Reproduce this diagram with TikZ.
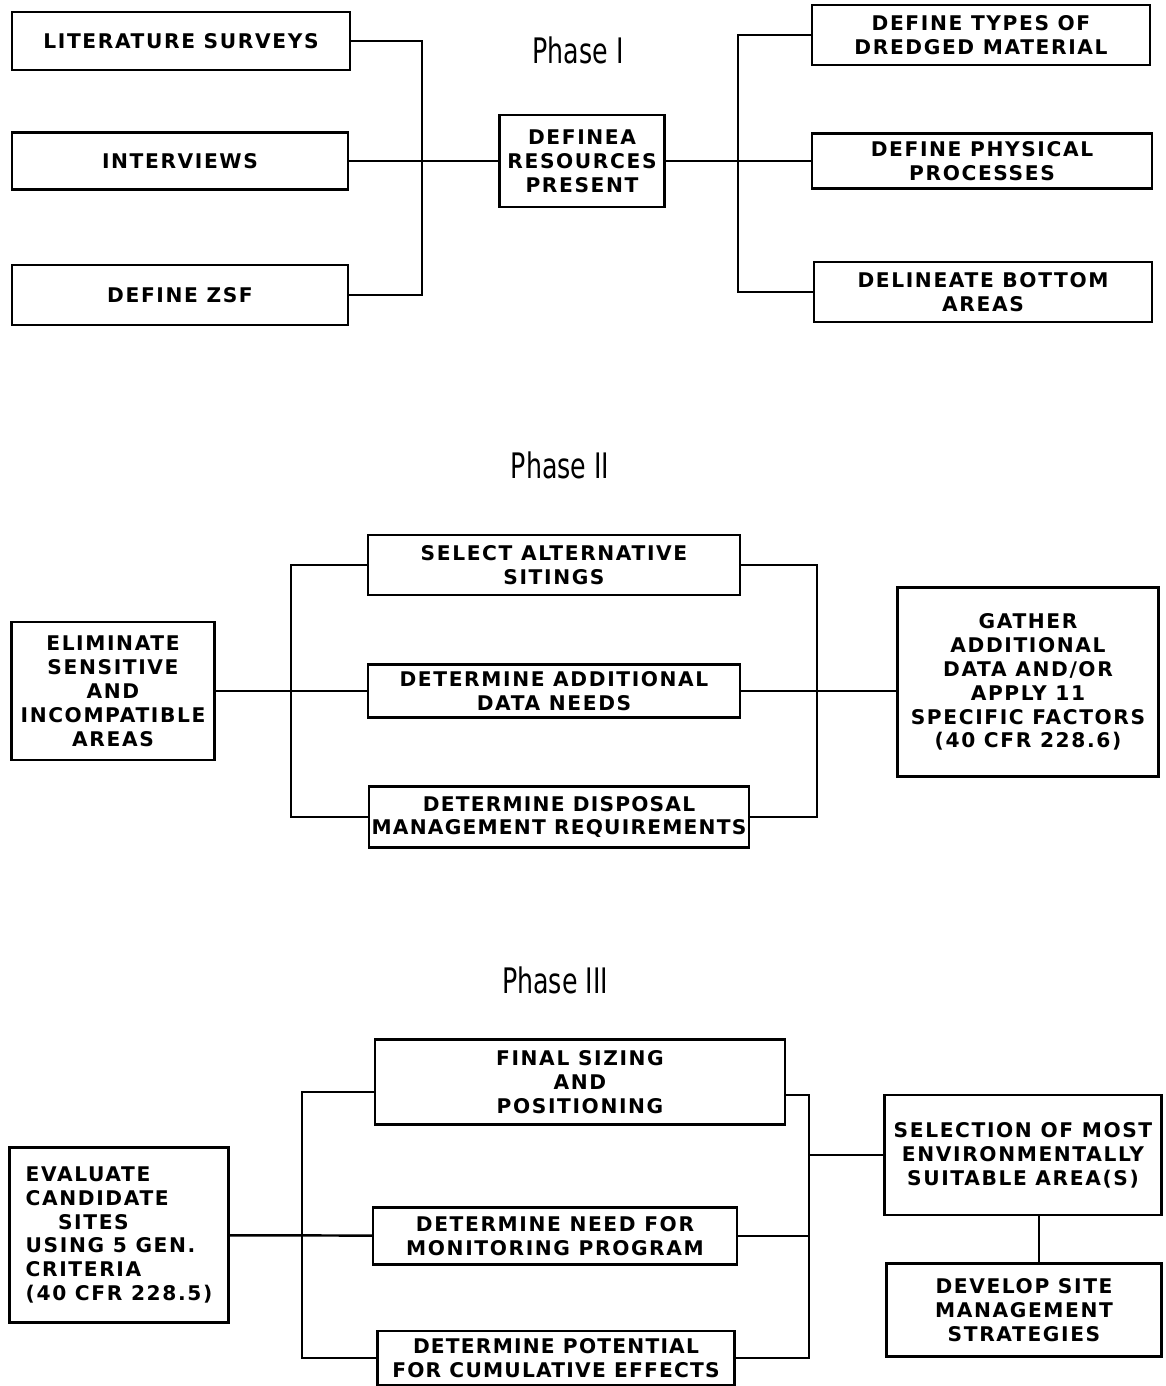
\documentclass[tikz,border=0pt]{standalone}
\usepackage{fontspec}
\setmainfont{DejaVu Sans}[LetterSpace=8]
\newfontfamily\phasefont[FakeStretch=0.72]{DejaVu Sans}
\usetikzlibrary{calc}
\tikzset{
	every node/.style = { align = center },
	box/.style = { draw, line width=1.4pt, inner sep=1mm, font=\bfseries\fontsize{11.5}{13.6}\selectfont },
	head/.style = { font=\phasefont\fontsize{20}{22}\selectfont },
	link/.style = { line width=1.4pt },
	tight/.style = { inner xsep=0.5mm, font=\bfseries\fontsize{11.5}{13.6}\selectfont\addfontfeature{LetterSpace=6} },
}

\begin{document}
\begin{tikzpicture}[x=0.02cm,y=-0.02cm]
\useasboundingbox (0,0) rectangle (1166,1386);

\node (ph1) [head] at (578,50)  {Phase I};
\node (lit) [box,minimum width=6.76cm,minimum height=1.16cm] at (181,41)  {LITERATURE SURVEYS};
\node (int) [box,minimum width=6.72cm,minimum height=1.14cm] at (180,161) {INTERVIEWS};
\node (zsf) [box,minimum width=6.72cm,minimum height=1.2cm]  at (180,295) {DEFINE ZSF};
\node (res) [box,minimum width=3.3cm,minimum height=1.84cm]  at (582,161) {DEFINEA\\RESOURCES\\PRESENT};
\node (typ) [box,minimum width=6.76cm,minimum height=1.2cm]  at (981,35)  {DEFINE TYPES OF\\DREDGED MATERIAL};
\node (phy) [box,minimum width=6.8cm,minimum height=1.1cm]   at (982,161) {DEFINE PHYSICAL\\PROCESSES};
\node (del) [box,minimum width=6.76cm,minimum height=1.2cm]  at (983,292) {DELINEATE BOTTOM\\AREAS};

\coordinate (b1) at (422,0);
\coordinate (b2) at (738,0);
\draw[link] (lit) -- (lit-|b1) -- (zsf-|b1) -- (zsf);
\draw[link] (int) -- (res);
\draw[link] (typ) -- (typ-|b2) -- (del-|b2) -- (del);
\draw[link] (res) -- (phy);

\node (ph2)  [head] at (560,465) {Phase II};
\node (elim) [box,minimum width=4.06cm,minimum height=2.76cm] at (113,691) {ELIMINATE\\SENSITIVE\\AND\\INCOMPATIBLE\\AREAS};
\node (sel)  [box,minimum width=7.44cm,minimum height=1.2cm]  at (554,565) {SELECT ALTERNATIVE\\SITINGS};
\node (add)  [box,minimum width=7.44cm,minimum height=1.06cm] at (554,691) {DETERMINE ADDITIONAL\\DATA NEEDS};
\node (dis)  [box,tight,minimum width=7.56cm,minimum height=1.22cm] at (559,817) {DETERMINE DISPOSAL\\MANAGEMENT REQUIREMENTS};
\node (gat)  [box,minimum width=5.22cm,minimum height=3.78cm] at (1028,682) {GATHER\\ADDITIONAL\\DATA AND/OR\\APPLY 11\\SPECIFIC FACTORS\\(40 CFR 228.6)};

\coordinate (b3) at (291,0);
\coordinate (b4) at (817,0);
\draw[link] (sel) -- (sel-|b3) -- (dis-|b3) -- (dis);
\draw[link] (elim) -- (add);
\draw[link] (sel) -- (sel-|b4) -- (dis-|b4) -- (dis);
\draw[link] (add) -- (add-|gat.west);

\node (ph3) [head] at (555,980) {Phase III};
\node (eva) [box,align=left,minimum width=4.38cm,minimum height=3.5cm] at (119,1235) {EVALUATE\\CANDIDATE\\\hspace*{1.6em}SITES\\USING 5 GEN.\\CRITERIA\\(40 CFR 228.5)};
\node (fin) [box,minimum width=8.2cm,minimum height=1.7cm]  at (580,1082) {FINAL SIZING\\AND\\POSITIONING};
\node (mon) [box,minimum width=7.28cm,minimum height=1.14cm] at (555,1236) {DETERMINE NEED FOR\\MONITORING PROGRAM};
\node (cum) [box,tight,minimum width=7.14cm,minimum height=1.08cm] at (556,1358) {DETERMINE POTENTIAL\\FOR CUMULATIVE EFFECTS};
\node (slc) [box,inner xsep=0.5mm,minimum width=5.54cm,minimum height=2.4cm]  at (1023,1155) {SELECTION OF MOST\\ENVIRONMENTALLY\\SUITABLE AREA(S)};
\node (dev) [box,minimum width=5.5cm,minimum height=1.86cm]  at (1024,1310) {DEVELOP SITE\\MANAGEMENT\\STRATEGIES};

\coordinate (b5) at (302,0);
\coordinate (b6) at (809,0);
\coordinate (b7) at (1039,0);
\coordinate (finl) at ([yshift=-0.2cm]fin.west);
\coordinate (finr) at ([yshift=-0.26cm]fin.east);
\draw[link] (finl) -- (finl-|b5) -- (cum-|b5) -- (cum);
\draw[link] (eva) -- (mon);
\draw[link] (finr) -- (finr-|b6) -- (cum-|b6) -- (cum);
\draw[link] (mon) -- (mon-|b6);
\draw[link] (slc-|b6) -- (slc);
\draw[link] (slc.south-|b7) -- (dev.north-|b7);

\end{tikzpicture}
\end{document}
